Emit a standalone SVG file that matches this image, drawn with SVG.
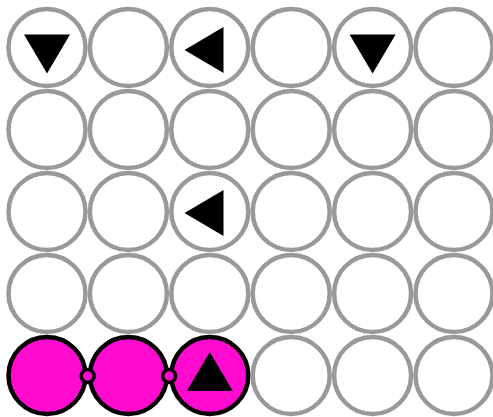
<svg xmlns="http://www.w3.org/2000/svg" width="493" height="417" viewBox="0 0 493 417">
<style>
.c{fill:#fff;stroke:#999;stroke-width:4.5}
.m{fill:#ff0acf;stroke:#000;stroke-width:4.5}
.j{fill:#ff0acf;stroke:#000;stroke-width:3.5}
.t{fill:#000}
</style>
<defs>
<path id="tri" d="M0,-26 L23,13 L-23,13 Z"/>
</defs>
<rect width="493" height="417" fill="#fff"/>
<g id="row1">
<g id="n11"><circle class="c" cx="47" cy="47.5" r="38.5"/><use href="#tri" class="t" transform="translate(47,47.5) rotate(180)"/></g>
<g id="n12"><circle class="c" cx="128.4" cy="47.5" r="38.5"/></g>
<g id="n13"><circle class="c" cx="209.8" cy="47.5" r="38.5"/><use href="#tri" class="t" transform="translate(210.5,50) rotate(-90)"/></g>
<g id="n14"><circle class="c" cx="291.2" cy="47.5" r="38.5"/></g>
<g id="n15"><circle class="c" cx="372.6" cy="47.5" r="38.5"/><use href="#tri" class="t" transform="translate(372.6,47.5) rotate(180)"/></g>
<g id="n16"><circle class="c" cx="454" cy="47.5" r="38.5"/></g>
</g>
<g id="row2">
<g id="n21"><circle class="c" cx="47" cy="129.5" r="38.5"/></g>
<g id="n22"><circle class="c" cx="128.4" cy="129.5" r="38.5"/></g>
<g id="n23"><circle class="c" cx="209.8" cy="129.5" r="38.5"/></g>
<g id="n24"><circle class="c" cx="291.2" cy="129.5" r="38.5"/></g>
<g id="n25"><circle class="c" cx="372.6" cy="129.5" r="38.5"/></g>
<g id="n26"><circle class="c" cx="454" cy="129.5" r="38.5"/></g>
</g>
<g id="row3">
<g id="n31"><circle class="c" cx="47" cy="211.5" r="38.5"/></g>
<g id="n32"><circle class="c" cx="128.4" cy="211.5" r="38.5"/></g>
<g id="n33"><circle class="c" cx="209.8" cy="211.5" r="38.5"/><use href="#tri" class="t" transform="translate(210.5,213) rotate(-90)"/></g>
<g id="n34"><circle class="c" cx="291.2" cy="211.5" r="38.5"/></g>
<g id="n35"><circle class="c" cx="372.6" cy="211.5" r="38.5"/></g>
<g id="n36"><circle class="c" cx="454" cy="211.5" r="38.5"/></g>
</g>
<g id="row4">
<g id="n41"><circle class="c" cx="47" cy="293.5" r="38.5"/></g>
<g id="n42"><circle class="c" cx="128.4" cy="293.5" r="38.5"/></g>
<g id="n43"><circle class="c" cx="209.8" cy="293.5" r="38.5"/></g>
<g id="n44"><circle class="c" cx="291.2" cy="293.5" r="38.5"/></g>
<g id="n45"><circle class="c" cx="372.6" cy="293.5" r="38.5"/></g>
<g id="n46"><circle class="c" cx="454" cy="293.5" r="38.5"/></g>
</g>
<g id="row5">
<g id="n51"><circle class="m" cx="47" cy="375.5" r="38.5"/></g>
<g id="n52"><circle class="m" cx="128.4" cy="375.5" r="38.5"/></g>
<g id="n53"><circle class="m" cx="209.8" cy="375.5" r="38.5"/><use href="#tri" class="t" transform="translate(209.8,378)"/></g>
<g id="n54"><circle class="c" cx="291.2" cy="375.5" r="38.5"/></g>
<g id="n55"><circle class="c" cx="372.6" cy="375.5" r="38.5"/></g>
<g id="n56"><circle class="c" cx="454" cy="375.5" r="38.5"/></g>
</g>
<g id="connectors">
<circle class="j" cx="87.7" cy="376" r="6.5"/>
<circle class="j" cx="169.1" cy="376" r="6.5"/>
</g>
</svg>
